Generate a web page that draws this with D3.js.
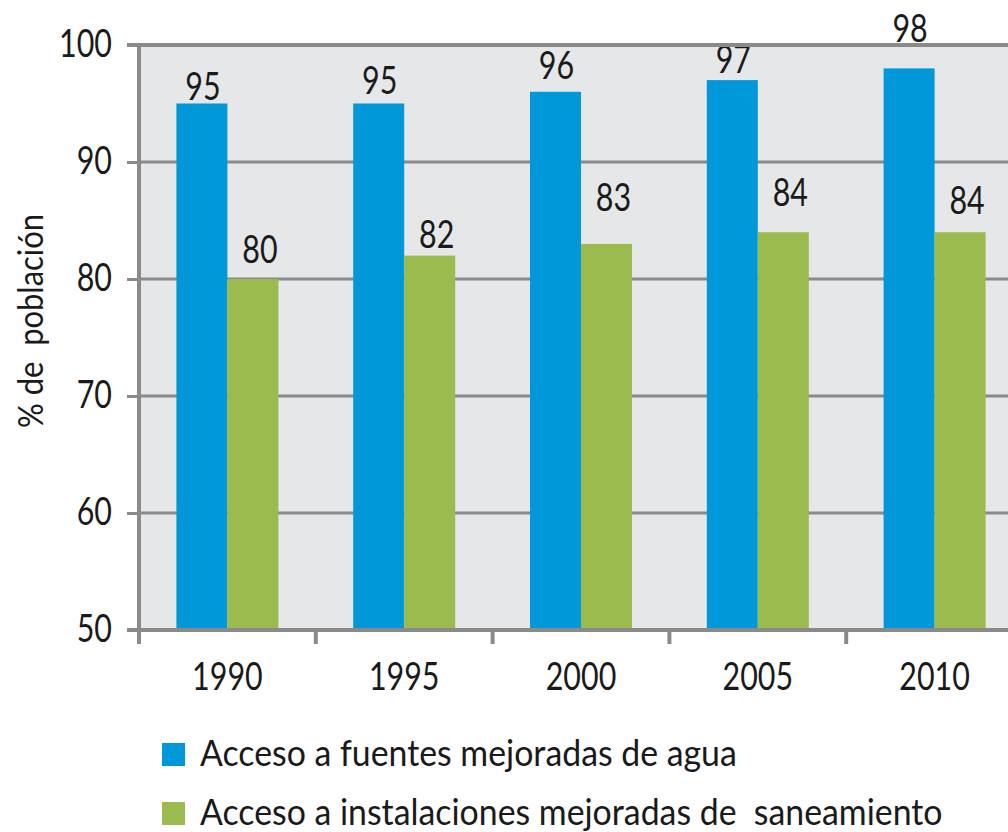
<!DOCTYPE html>
<html><head><meta charset="utf-8">
<script src="https://cdn.jsdelivr.net/npm/d3@7"></script>
<style>
html,body{margin:0;padding:0;background:#fff;}
svg text{font-family:Lato,"Open Sans",sans-serif;fill:#1a1a1a;white-space:pre;}
</style></head><body>
<svg id="c" width="1008" height="832"></svg>
<script>
const categories = ["1990","1995","2000","2005","2010"];
const seriesNames = ["Acceso a fuentes mejoradas de agua","Acceso a instalaciones mejoradas de  saneamiento"];
const water = [95,95,96,97,98];
const sanitation = [80,82,83,84,84];
const yTicks = [50,60,70,80,90,100];
const colors = ["#0098d8","#9bbb4f"];
// vertical gap (px) between each value label and its bar top, as placed in the original
const labelGap = [[4,10,13,7,26],[16,8,33,26,18]];

(function(){
const svg = d3.select("#c");
const pL = 139, pR = 1023, pT = 45, pB = 630;
const SX = 0.78, FS = 39;
const x0 = d3.scaleBand().domain(categories).range([pL, pR]).padding(0);
const groupW = 102;
const x1 = d3.scaleBand().domain([0,1]).range([0, groupW]).padding(0);
const y = d3.scaleLinear().domain([50,100]).range([pB, pT]);
const grid = "#8a8a8a";

function txt(g, x, yy, s, size, anchor, sx){
  return g.append("text").attr("transform",`translate(${x},${yy}) scale(${sx||SX},1)`)
    .attr("text-anchor",anchor||"start").attr("font-size",size).text(s);
}

svg.append("rect").attr("x", pL).attr("y", pT).attr("width", pR-pL).attr("height", pB-pT).attr("fill","#e6e7e9");

svg.append("g").selectAll("line").data(yTicks.filter(d=>d>50 && d<100)).join("line")
  .attr("x1", pL).attr("x2", pR).attr("y1", d=>y(d)).attr("y2", d=>y(d))
  .attr("stroke",grid).attr("stroke-width",3);

const data = [water, sanitation];
const gBars = svg.append("g");
const gLab = svg.append("g");
categories.forEach((c,i)=>{
  data.forEach((s,j)=>{
    const bx = x0(c) + (x0.bandwidth()-groupW)/2 + x1(j);
    gBars.append("rect").attr("x", bx).attr("y", y(s[i])).attr("width", x1.bandwidth()).attr("height", y(50)-y(s[i])).attr("fill", colors[j]);
    txt(gLab, bx + x1.bandwidth()/2 + (j===1?7:1), y(s[i]) - labelGap[j][i], String(s[i]), FS, "middle");
  });
});

// top border (100)
svg.append("line").attr("x1", pL-12).attr("x2", pR).attr("y1", y(100)).attr("y2", y(100)).attr("stroke",grid).attr("stroke-width",4);

// y axis
const yAxis = d3.axisLeft(y).tickValues(yTicks).tickSize(12).tickFormat(d=>"");
const gy = svg.append("g").attr("transform",`translate(${pL},0)`).call(yAxis);
gy.select(".domain").remove();
gy.selectAll(".tick line").attr("stroke",grid).attr("stroke-width",3);
const gyl = svg.append("g");
yTicks.forEach(t=>txt(gyl, 112, y(t)+12, String(t), FS, "end"));
svg.append("line").attr("x1",pL).attr("x2",pL).attr("y1",pT).attr("y2",pB+14).attr("stroke",grid).attr("stroke-width",4);

// x axis
svg.append("line").attr("x1",pL-12).attr("x2",pR).attr("y1",pB).attr("y2",pB).attr("stroke",grid).attr("stroke-width",4);
const xAxis = d3.axisBottom(x0).tickSize(0).tickFormat(d=>"");
const gx = svg.append("g").attr("transform",`translate(0,${pB})`).call(xAxis);
gx.select(".domain").remove();
const gxl = svg.append("g");
categories.forEach(c=>txt(gxl, x0(c)+x0.bandwidth()/2, 690, c, FS, "middle"));
svg.append("g").selectAll("line").data(categories.slice(1)).join("line")
  .attr("x1", d=>x0(d)).attr("x2", d=>x0(d)).attr("y1", pB).attr("y2", pB+14)
  .attr("stroke",grid).attr("stroke-width",4);

// y label
svg.append("text").attr("transform",`translate(43,321) rotate(-90) scale(0.91,1)`).attr("text-anchor","middle")
  .attr("font-size",34).text("% de  población");

// legend
const lg = svg.append("g");
seriesNames.forEach((n,i)=>{
  const ly = 754.5 + i*59;
  lg.append("rect").attr("x",162).attr("y",ly-11.5).attr("width",23).attr("height",23).attr("fill",colors[i]);
  txt(lg, 200, ly+11, n, 36, "start", 0.94);
});
})();
</script>
</body></html>
